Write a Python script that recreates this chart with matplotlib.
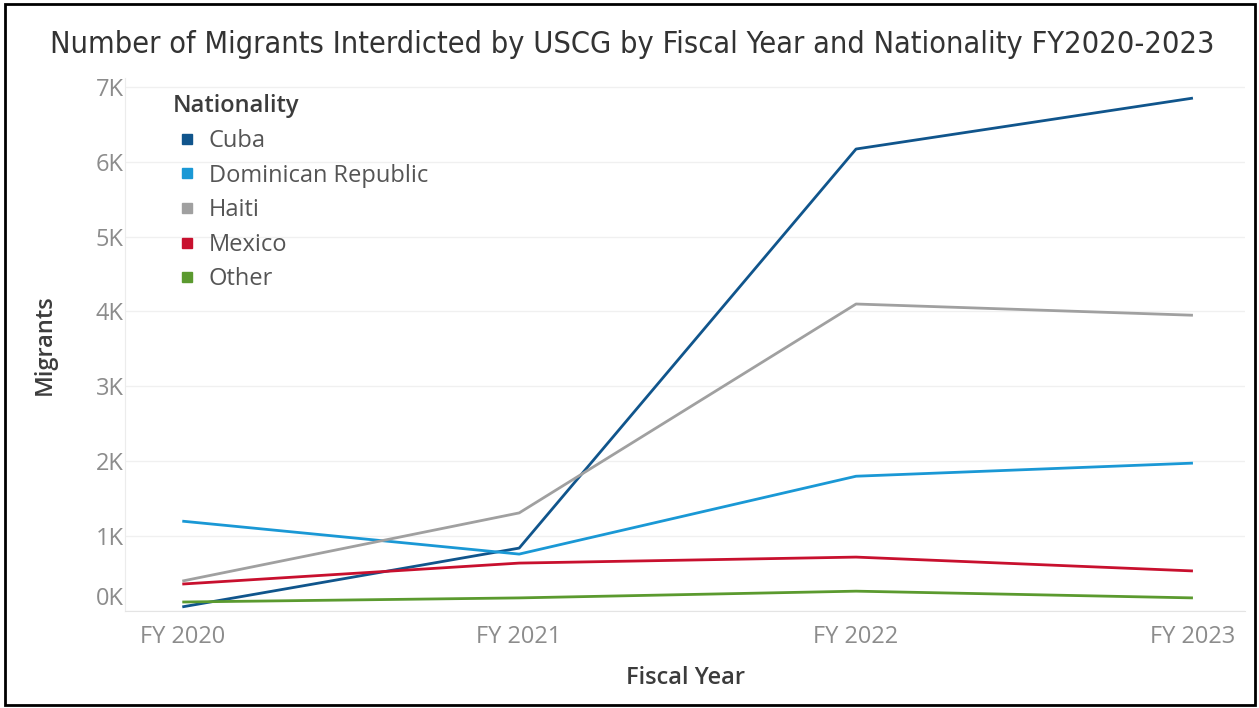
import matplotlib.pyplot as plt
from matplotlib.lines import Line2D
from matplotlib.patches import Rectangle

years = ["FY 2020", "FY 2021", "FY 2022", "FY 2023"]
cuba = [55, 840, 6170, 6850]
dominican = [1200, 760, 1800, 1975]
haiti = [400, 1310, 4100, 3950]
mexico = [360, 640, 720, 535]
other = [120, 175, 265, 175]

names = ["Cuba", "Dominican Republic", "Haiti", "Mexico", "Other"]
colors = ["#10558c", "#1a98d5", "#a0a0a0", "#c8102e", "#5b9a2f"]
y_ticks = [0, 1000, 2000, 3000, 4000, 5000, 6000, 7000]
y_labels = ["0K", "1K", "2K", "3K", "4K", "5K", "6K", "7K"]

plt.rcParams["font.family"] = ["Open Sans", "DejaVu Sans"]

fig = plt.figure(figsize=(12.59, 7.08), dpi=100)
ax = fig.add_axes([0.0993, 0.137, 0.8897, 0.753])

x = list(range(len(years)))
for series, name, col in zip([cuba, dominican, haiti, mexico, other], names, colors):
    ax.plot(x, series, color=col, linewidth=2, label=name, solid_capstyle="butt")

ax.set_xlim(-0.17, 3.155)
ax.set_ylim(0, 7120)
ax.set_yticks(y_ticks)
ax.set_yticklabels(y_labels)
ax.set_xticks(x)
ax.set_xticklabels(years)
ax.tick_params(axis="both", colors="#8c8c8c", labelsize=17, length=0)
ax.tick_params(axis="y", pad=1)
ax.tick_params(axis="x", pad=10)
# Tableau nudges the bottom label up inside the axis
ax.get_yticklabels()[0].set_verticalalignment("bottom")

ax.grid(axis="y", color="#f0f0f0", linewidth=1)
ax.set_axisbelow(True)
for side in ["top", "right"]:
    ax.spines[side].set_visible(False)
ax.spines["left"].set_color("#ececec")
ax.spines["bottom"].set_color("#e4e4e4")

ax.set_ylabel("Migrants", fontsize=17, color="#3c3c3c", fontweight="semibold", labelpad=28)
ax.set_xlabel("Fiscal Year", fontsize=17, color="#3c3c3c", fontweight="semibold", labelpad=12)

fig.text(0.502, 0.937, "Number of Migrants Interdicted by USCG by Fiscal Year and Nationality FY2020-2023",
         ha="center", va="center", fontsize=22, color="#333333",
         family="DejaVu Sans", stretch="condensed")

handles = [Line2D([], [], linestyle="none", marker="s", markersize=7.5, color=c) for c in colors]
leg = ax.legend(handles, names, title="Nationality", loc="upper left",
                bbox_to_anchor=(0.024, 1.009), frameon=False, fontsize=17,
                labelspacing=0.45, handletextpad=0.3, handlelength=1.2,
                title_fontproperties={"size": 17, "weight": "semibold"})
leg._legend_box.align = "left"
leg.get_title().set_color("#3c3c3c")
for t in leg.get_texts():
    t.set_color("#555555")

fig.patches.append(Rectangle((0.004, 0.004), 0.993, 0.991, transform=fig.transFigure,
                             fill=False, edgecolor="black", linewidth=2))

fig.savefig("out.png", dpi=100)
